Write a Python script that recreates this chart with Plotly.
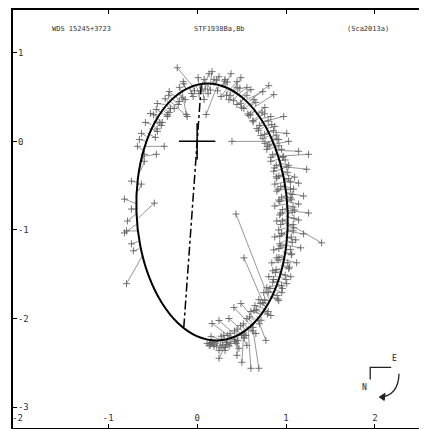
import plotly.graph_objects as go

# ---------------- data (arcsec) ----------------
orbit_x = [1.019, 0.977, 0.880, 0.734, 0.550, 0.340, 0.118, -0.101, -0.301, -0.469, -0.594, -0.667,
           -0.683, -0.641, -0.544, -0.398, -0.214, -0.004, 0.218, 0.437, 0.637, 0.805, 0.930, 1.003, 1.019]
orbit_y = [-0.798, -0.422, -0.073, 0.227, 0.457, 0.602, 0.652, 0.602, 0.457, 0.227, -0.073, -0.422,
           -0.798, -1.173, -1.522, -1.822, -2.053, -2.198, -2.247, -2.198, -2.053, -1.822, -1.522, -1.173, -0.798]

node_x = [0.046, -0.150]
node_y = [0.635, -2.097]

primary_x = [0.0]
primary_y = [0.0]

# computed (on-orbit) positions
fit_x = [-0.571, -0.560, -0.538, -0.515, -0.493, -0.470, -0.448, -0.426, -0.392, -0.358, -0.336, -0.314,
         -0.280, -0.246, -0.202, -0.168, -0.123, -0.090, -0.045, -0.011, 0.022, 0.056, 0.078, 0.112,
         0.146, 0.190, 0.224, 0.269, 0.302, 0.336, 0.370, 0.403, 0.437, 0.470, 0.504, 0.538, 0.560,
         0.582, 0.605, 0.638, 0.661, 0.683, 0.706, 0.728, 0.750, 0.762, 0.784, 0.795, 0.806, 0.829,
         0.829, 0.851, 0.862, 0.874, 0.885, 0.896, 0.907, 0.918, 0.929, 0.941, 0.952, 0.963, 0.963,
         0.974, 0.974, 0.985, 0.985, 0.985, 0.985, 0.997, 0.997, 0.997, 0.997, 0.997, 0.997, 0.997,
         0.997, 0.997, 0.997, 0.997, 0.997, 0.985, 0.985, 0.985, 0.974, 0.974, 0.963, 0.963, 0.952,
         0.952, 0.941, 0.929, 0.918, 0.907, 0.896, 0.874, 0.862, 0.840, 0.818, 0.795, 0.806, 0.762,
         0.750, 0.728, 0.706, 0.672, 0.650, 0.616, 0.594, 0.571, 0.549, 0.526, 0.504, 0.482, 0.459,
         0.437, 0.414, 0.381, 0.358, 0.336, 0.302, 0.269, 0.235, 0.202, 0.168, -0.616, -0.650, -0.661,
         -0.661, -0.661, -0.672, -0.672, -0.672, -0.661, -0.650, -0.638, -0.616, -0.605, -0.594,
         -0.582, -0.571, -0.650, 0.314, 0.392, 0.504, 0.224,
         0.28, 0.35, 0.40, 0.45, 0.50, 0.55, 0.59, 0.62, 0.66, 0.69, 0.72, 0.75, 0.78, 0.80, 0.83,
         0.85, 0.87, 0.89, 0.91, 0.93, 0.94, 0.95, 0.97, 0.98, 0.99, 1.00, 1.00, 1.01, 1.01, 1.01,
         1.00, 1.00, 1.00, 0.99, 0.98, 0.97, 0.96, 0.94, 0.93, 0.91, 0.89, 0.86, 0.84, 0.81, 0.77,
         0.74, 0.70, 0.66, 0.62, 0.58, 0.54, 0.50, 0.46, 0.42, 0.38, 0.34, 0.30, 0.26, 0.22, 0.18,
         -0.50, -0.44, -0.38, -0.32, -0.24, -0.17, -0.08, 0.02, 0.12, 0.20,
         0.60, 0.65, 0.70, 0.74, 0.77, 0.80, 0.83, 0.86, 0.88, 0.90, 0.92, 0.94, 0.95, 0.97, 0.98,
         0.99, 1.00, 1.01, 1.01, 1.02, 1.02, 1.02, 1.02, 1.01, 1.01, 1.00, 0.99, 0.98, 0.97, 0.95,
         0.94, 0.92, 0.90, 0.88, 0.85, 0.79, 0.75, 0.72, 0.68, 0.64, 0.60, 0.56, 0.52, 0.48, 0.44,
         0.40, 0.36, 0.32, 0.28, 0.24, 0.20, 0.16, 0.30, 0.40, 0.48, 0.05, 0.10, 0.16, 0.24, 0.31,
         0.38, 0.44, 0.52, -0.05, -0.13, -0.21, -0.28, -0.35, -0.41, -0.47]
fit_y = [0.056, 0.090, 0.146, 0.191, 0.225, 0.270, 0.303, 0.337, 0.382, 0.416, 0.438, 0.461,
         0.483, 0.506, 0.539, 0.562, 0.584, 0.596, 0.618, 0.629, 0.629, 0.640, 0.640, 0.640,
         0.629, 0.629, 0.618, 0.607, 0.607, 0.596, 0.584, 0.573, 0.551, 0.539, 0.517, 0.494, 0.472,
         0.449, 0.427, 0.382, 0.360, 0.326, 0.292, 0.258, 0.225, 0.191, 0.146, 0.112, 0.090, 0.045,
         0.0, 0.0, -0.034, -0.067, -0.101, -0.135, -0.169, -0.202, -0.247, -0.281, -0.315, -0.360, -0.393,
         -0.427, -0.461, -0.506, -0.539, -0.573, -0.607, -0.640, -0.674, -0.708, -0.742, -0.775, -0.809, -0.843,
         -0.876, -0.910, -0.944, -0.978, -1.011, -1.045, -1.079, -1.124, -1.169, -1.202, -1.247, -1.281, -1.326,
         -1.360, -1.404, -1.438, -1.483, -1.528, -1.573, -1.629, -1.663, -1.708, -1.753, -1.798, -1.775, -1.865,
         -1.888, -1.921, -1.944, -1.978, -2.011, -2.045, -2.067, -2.090, -2.101, -2.124, -2.135, -2.157, -2.169,
         -2.191, -2.202, -2.213, -2.225, -2.236, -2.247, -2.258, -2.258, -2.258, -2.247, -1.292, -1.124, -1.011,
         -0.865, -0.921, -0.809, -0.708, -0.764, -0.562, -0.472, -0.337, -0.225, -0.169, -0.112,
         -0.056, 0.0, -1.213, -2.236, -2.213, -2.146, -2.258,
         0.61, 0.58, 0.55, 0.52, 0.47, 0.43, 0.39, 0.35, 0.30, 0.26, 0.21, 0.16, 0.10, 0.06, 0.01,
         -0.04, -0.10, -0.16, -0.22, -0.28, -0.33, -0.38, -0.45, -0.52, -0.58, -0.66, -0.72, -0.79, -0.85, -0.92,
         -0.99, -1.05, -1.12, -1.19, -1.26, -1.33, -1.40, -1.47, -1.53, -1.58, -1.63, -1.70, -1.75, -1.80, -1.86,
         -1.90, -1.95, -2.00, -2.04, -2.08, -2.12, -2.15, -2.19, -2.21, -2.23, -2.24, -2.25, -2.26, -2.26, -2.25,
         0.18, 0.27, 0.35, 0.44, 0.51, 0.56, 0.61, 0.63, 0.64, 0.63,
         0.40, 0.34, 0.28, 0.22, 0.17, 0.11, 0.05, -0.02, -0.08, -0.13, -0.19, -0.25, -0.31, -0.37, -0.43,
         -0.49, -0.55, -0.61, -0.68, -0.75, -0.82, -0.88, -0.95, -1.02, -1.09, -1.16, -1.23, -1.30, -1.37, -1.44,
         -1.50, -1.56, -1.61, -1.66, -1.72, -1.84, -1.89, -1.93, -1.98, -2.02, -2.06, -2.10, -2.14, -2.17, -2.20,
         -2.22, -2.23, -2.24, -2.25, -2.25, -2.25, -2.24, -2.25, -2.22, -2.17, 0.64, 0.65, 0.64, 0.63, 0.61,
         0.58, 0.54, 0.48, 0.62, 0.59, 0.54, 0.48, 0.41, 0.33, 0.24]

# measured positions
obs_x = [-0.627, -0.470, -0.448, -0.582, -0.403, -0.392, -0.526, -0.336, -0.314, -0.448, -0.258, -0.112,
         -0.213, -0.314, -0.134, -0.123, -0.157, -0.045, -0.224, 0.022, 0.011, 0.078, 0.134, 0.123,
         0.168, 0.246, 0.101, 0.314, 0.381, 0.269, 0.448, 0.493, 0.358, 0.560, 0.605, 0.448, 0.739,
         0.806, 0.526, 0.862, 0.582, 0.762, 0.627, 0.829, 0.974, 0.672, 0.874, 1.008, 0.717, 0.918,
         0.392, 0.762, 1.030, 0.784, 1.142, 0.963, 1.254, 0.829, 1.030, 1.232, 0.862, 1.097, 0.896,
         1.142, 0.874, 1.086, 0.896, 1.198, 1.053, 0.918, 1.142, 0.874, 1.097, 1.254, 0.929, 1.142,
         0.896, 1.400, 1.086, 0.918, 1.198, 0.874, 1.109, 0.929, 1.165, 0.862, 1.064, 0.896, 1.120,
         0.840, 1.030, 0.851, 1.053, 0.806, 1.008, 0.784, 0.952, 0.750, 0.918, 0.694, 0.437, 0.526,
         0.650, 0.829, 0.605, 0.773, 0.493, 0.694, 0.414, 0.605, 0.661, 0.504, 0.358, 0.560, 0.448,
         0.246, 0.470, 0.168, 0.246, 0.314, 0.157, 0.246, 0.134, 0.314, 0.112, -0.795, -0.739, -0.795,
         -0.482, -0.818, -0.784, -0.818, -0.739, -0.627, -0.739, -0.594, -0.594, -0.459, -0.672,
         -0.370, -0.650, -0.717, 0.336, 0.426, 0.538, 0.190,
         0.31, 0.33, 0.45, 0.41, 0.56, 0.50, 0.66, 0.57, 0.73, 0.63, 0.80, 0.69, 0.86, 0.74, 0.90,
         0.79, 0.95, 0.83, 0.99, 0.87, 1.02, 0.89, 1.05, 0.91, 1.07, 0.93, 1.08, 0.94, 1.09, 0.94,
         1.08, 0.93, 1.07, 0.92, 1.06, 0.91, 1.04, 0.88, 1.00, 0.85, 0.96, 0.80, 0.91, 0.76, 0.71,
         0.79, 0.64, 0.70, 0.56, 0.62, 0.49, 0.53, 0.42, 0.44, 0.34, 0.36, 0.27, 0.27, 0.19, 0.15,
         -0.45, -0.49, -0.33, -0.36, -0.20, -0.20, -0.06, 0.04, 0.15, 0.22,
         0.64, 0.60, 0.76, 0.70, 0.84, 0.76, 0.89, 0.81, 0.92, 0.85, 0.97, 0.89, 1.01, 0.92, 1.03,
         0.94, 1.05, 0.95, 1.06, 0.96, 1.07, 0.96, 1.08, 0.95, 1.06, 0.94, 1.05, 0.92, 1.02, 0.89,
         0.99, 0.86, 0.95, 0.82, 0.90, 0.74, 0.80, 0.67, 0.72, 0.59, 0.63, 0.52, 0.55, 0.45, 0.46,
         0.37, 0.38, 0.30, 0.29, 0.22, 0.17, 0.14, 0.33, 0.42, 0.50, 0.08, 0.09, 0.19, 0.23, 0.34,
         0.37, 0.48, 0.49, -0.03, -0.15, -0.17, -0.32, -0.30, -0.46, -0.42]
obs_y = [0.090, 0.045, 0.112, 0.213, 0.180, 0.213, 0.315, 0.281, 0.326, 0.427, 0.371, 0.281,
         0.416, 0.562, 0.472, 0.303, 0.674, 0.506, 0.831, 0.539, 0.719, 0.472, 0.764, 0.539,
         0.787, 0.730, 0.303, 0.697, 0.764, 0.506, 0.674, 0.719, 0.472, 0.607, 0.584, 0.416, 0.562,
         0.629, 0.371, 0.528, 0.292, 0.382, 0.236, 0.281, 0.281, 0.146, 0.169, 0.090, 0.067, 0.022,
         0.0, -0.022, 0.0, -0.090, -0.112, -0.180, -0.146, -0.225, -0.270, -0.315, -0.337, -0.404, -0.416,
         -0.472, -0.483, -0.539, -0.562, -0.618, -0.640, -0.663, -0.708, -0.730, -0.775, -0.809, -0.831, -0.888,
         -0.899, -1.146, -0.978, -1.000, -1.045, -1.079, -1.112, -1.157, -1.202, -1.225, -1.270, -1.315, -1.371,
         -1.371, -1.438, -1.461, -1.528, -1.528, -1.607, -1.652, -1.708, -1.708, -1.798, -1.787, -0.820, -1.315,
         -1.854, -1.966, -1.921, -2.247, -1.831, -2.562, -1.876, -2.562, -2.169, -2.494, -2.000, -2.303, -2.416,
         -2.022, -2.337, -2.056, -2.449, -2.360, -2.202, -2.360, -2.303, -2.326, -2.281, -1.607, -1.157, -1.011,
         -0.697, -1.034, -0.899, -0.652, -0.764, -0.483, -0.449, -0.225, -0.146, -0.146, -0.056,
         -0.056, 0.022, -1.236, -2.292, -2.258, -2.191, -2.315,
         0.68, 0.52, 0.61, 0.46, 0.52, 0.38, 0.44, 0.31, 0.33, 0.22, 0.23, 0.12, 0.12, 0.03, 0.02,
         -0.06, -0.09, -0.18, -0.21, -0.30, -0.35, -0.40, -0.46, -0.54, -0.60, -0.68, -0.74, -0.81, -0.87, -0.94,
         -1.01, -1.07, -1.14, -1.21, -1.28, -1.34, -1.42, -1.48, -1.56, -1.59, -1.66, -1.70, -1.78, -1.79, -1.83,
         -1.95, -1.91, -2.06, -2.00, -2.14, -2.08, -2.22, -2.14, -2.28, -2.19, -2.31, -2.20, -2.33, -2.29, -2.30,
         0.14, 0.30, 0.30, 0.48, 0.45, 0.61, 0.54, 0.57, 0.58, 0.69,
         0.47, 0.30, 0.31, 0.18, 0.19, 0.08, 0.07, -0.04, -0.05, -0.15, -0.17, -0.27, -0.29, -0.39, -0.42,
         -0.51, -0.54, -0.63, -0.66, -0.77, -0.80, -0.90, -0.94, -1.04, -1.08, -1.18, -1.22, -1.31, -1.37, -1.45,
         -1.51, -1.56, -1.63, -1.66, -1.74, -1.82, -1.92, -1.90, -2.02, -1.98, -2.10, -2.06, -2.19, -2.12, -2.25,
         -2.17, -2.28, -2.19, -2.30, -2.31, -2.27, -2.28, -2.27, -2.24, -2.19, 0.70, 0.59, 0.70, 0.57, 0.67,
         0.52, 0.60, 0.43, 0.57, 0.65, 0.49, 0.52, 0.37, 0.36, 0.21]

x_ticks = [-2, -1, 0, 1, 2]
x_labels = ["-2", "-1", "0", "1", "2"]
y_ticks = [1, 0, -1, -2, -3]
y_labels = ["1", "0", "-1", "-2", "-3"]

header = ["WDS 15245+3723", "STF1938Ba,Bb", "(Sca2013a)"]

# ---------------- figure ----------------
res_x, res_y = [], []
for fx, fy, ox, oy in zip(fit_x, fit_y, obs_x, obs_y):
    res_x += [fx, ox, None]
    res_y += [fy, oy, None]

fig = go.Figure()
fig.add_trace(go.Scatter(x=res_x, y=res_y, mode="lines",
                         line=dict(color="rgba(125,125,125,0.8)", width=1),
                         hoverinfo="skip", showlegend=False))
fig.add_trace(go.Scatter(x=obs_x, y=obs_y, mode="markers",
                         marker=dict(symbol="cross-thin", size=5,
                                     line=dict(color="rgba(100,100,100,0.9)", width=1)),
                         showlegend=False))
fig.add_trace(go.Scatter(x=orbit_x, y=orbit_y, mode="lines",
                         line=dict(color="black", width=2, shape="spline", smoothing=1.0),
                         showlegend=False))
fig.add_trace(go.Scatter(x=node_x, y=node_y, mode="lines",
                         line=dict(color="black", width=1.5, dash="dashdot"),
                         showlegend=False))
fig.add_trace(go.Scatter(x=primary_x, y=primary_y, mode="markers",
                         marker=dict(symbol="cross-thin", size=26,
                                     line=dict(color="black", width=1.5)),
                         showlegend=False))

tickfont = dict(family="DejaVu Sans Mono", size=9, color="#333")
fig.update_xaxes(range=[-2.072, 2.564], tickvals=x_ticks, ticktext=x_labels,
                 ticks="inside", ticklen=4, tickcolor="black", ticklabelposition="inside",
                 showline=True, linecolor="black", linewidth=1.5, mirror="ticks",
                 showgrid=False, zeroline=False, tickfont=tickfont)
fig.update_yaxes(range=[-3.236, 1.483], tickvals=y_ticks, ticktext=y_labels,
                 ticks="inside", ticklen=4, tickcolor="black", ticklabelposition="inside",
                 showline=True, linecolor="black", linewidth=1.5, mirror="ticks",
                 showgrid=False, zeroline=False, tickfont=tickfont)

# the edge label "-2" is hidden by plotly (too close to the frame), so add it back
fig.add_annotation(x=x_ticks[0], y=0.024, xref="x", yref="paper", text=x_labels[0],
                   showarrow=False, font=tickfont, xanchor="center", yanchor="middle",
                   xshift=-2)

hfont = dict(family="DejaVu Sans Mono", size=7, color="#333")
for txt, px in zip(header, [0.167, 0.5, 0.862]):
    fig.add_annotation(x=px, y=0.955, xref="paper", yref="paper", text=txt,
                       showarrow=False, font=hfont, xanchor="center", yanchor="middle")

# compass (N / E)
fig.add_shape(type="path", xref="paper", yref="paper",
              path="M 0.918 0.145 L 0.867 0.145 L 0.867 0.116",
              line=dict(color="#222", width=1.3))
fig.add_shape(type="path", xref="paper", yref="paper",
              path="M 0.937 0.130 Q 0.935 0.078 0.892 0.074",
              line=dict(color="#222", width=1.3))
fig.add_shape(type="path", xref="paper", yref="paper",
              path="M 0.889 0.074 L 0.903 0.083 L 0.901 0.066 Z",
              fillcolor="#222", line=dict(color="#222", width=1))
cfont = dict(family="DejaVu Sans Mono", size=8, color="#222")
fig.add_annotation(x=0.937, y=0.150, xref="paper", yref="paper", text="E",
                   showarrow=False, font=cfont)
fig.add_annotation(x=0.865, y=0.081, xref="paper", yref="paper", text="N",
                   showarrow=False, font=cfont)

# the page body adds an 8px margin, so the figure is sized to fit the window
fig.update_layout(width=419, height=421, margin=dict(l=5, r=0, t=0, b=1),
                  paper_bgcolor="white", plot_bgcolor="white")

fig.write_html("out.html")
